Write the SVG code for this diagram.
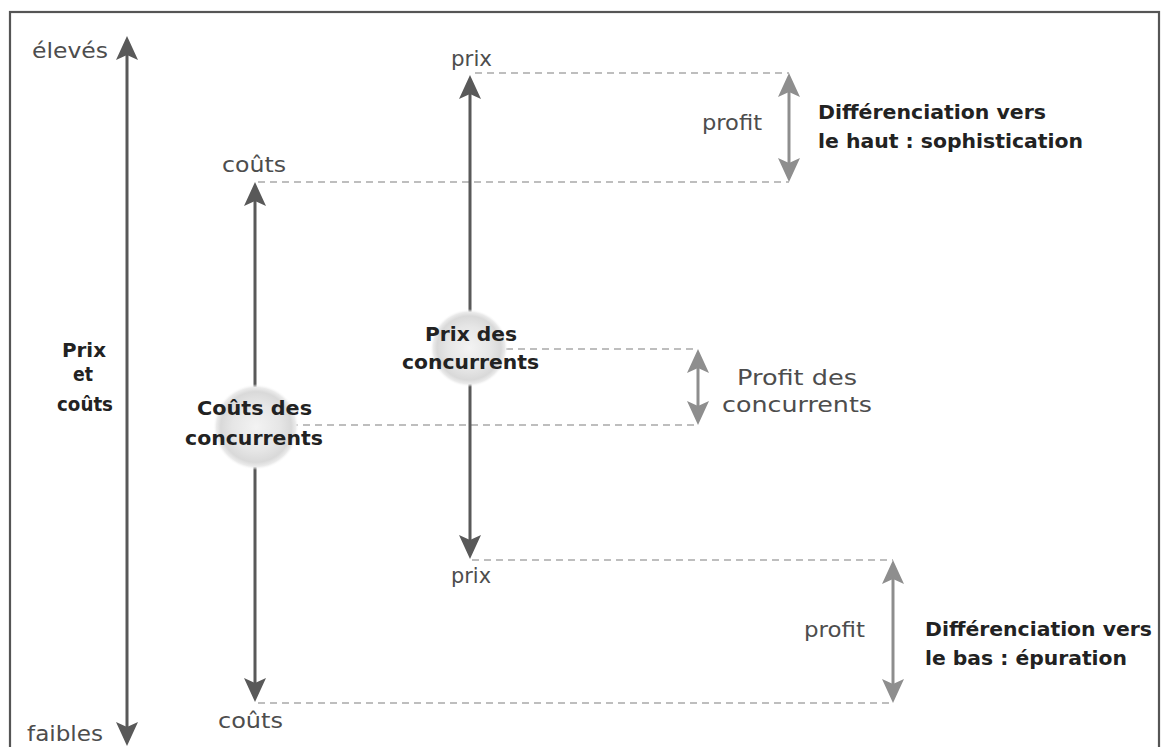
<svg xmlns="http://www.w3.org/2000/svg" width="1164" height="747" viewBox="0 0 1164 747">
<style>
.reg{font-family:"DejaVu Sans","Liberation Sans",sans-serif;font-size:22px;fill:#4d4d4d}
.bold{font-family:"DejaVu Sans","Liberation Sans",sans-serif;font-size:20px;font-weight:bold;fill:#222}
.main{stroke:#595959;stroke-width:3;fill:none}
.prof{stroke:#8e8e8e;stroke-width:3;fill:none}
.dash{stroke:#a9a9a9;stroke-width:1.6;stroke-dasharray:7 5;fill:none}
</style>
<defs>
<marker id="ah" viewBox="0 0 24 24" markerWidth="24" markerHeight="24" refX="10" refY="12" orient="auto-start-reverse" markerUnits="userSpaceOnUse">
<path d="M0,1 L24,12 L0,23 L5,12 Z" fill="#595959"/>
</marker>
<marker id="ahg" viewBox="0 0 24 24" markerWidth="24" markerHeight="24" refX="10" refY="12" orient="auto-start-reverse" markerUnits="userSpaceOnUse">
<path d="M0,1 L24,12 L0,23 L5,12 Z" fill="#8e8e8e"/>
</marker>
<radialGradient id="halo">
<stop offset="0" stop-color="#f3f3f3"/>
<stop offset="0.55" stop-color="#e6e6e6"/>
<stop offset="0.82" stop-color="#d9d9d9"/>
<stop offset="0.92" stop-color="#ebebeb"/>
<stop offset="1" stop-color="#ffffff" stop-opacity="0"/>
</radialGradient>
</defs>
<rect width="1164" height="747" fill="#ffffff"/>
<rect id="frame" x="10" y="12" width="1149" height="760" fill="none" stroke="#555" stroke-width="2.2"/>
<g id="connectors">
<line class="dash" x1="475" y1="73" x2="789" y2="73"/>
<line class="dash" x1="258" y1="182" x2="789" y2="182"/>
<line class="dash" x1="470" y1="349" x2="698" y2="349"/>
<line class="dash" x1="255" y1="425" x2="698" y2="425"/>
<line class="dash" x1="472" y1="560" x2="893" y2="560"/>
<line class="dash" x1="258" y1="703" x2="893" y2="703"/>
<line class="main" x1="127" y1="50" x2="127" y2="732" marker-start="url(#ah)" marker-end="url(#ah)"/>
<line class="main" x1="255" y1="196" x2="255" y2="688" marker-start="url(#ah)" marker-end="url(#ah)"/>
<line class="main" x1="470" y1="89" x2="470" y2="545" marker-start="url(#ah)" marker-end="url(#ah)"/>
<line class="prof" x1="789" y1="87" x2="789" y2="168" marker-start="url(#ahg)" marker-end="url(#ahg)"/>
<line class="prof" x1="698" y1="363" x2="698" y2="411" marker-start="url(#ahg)" marker-end="url(#ahg)"/>
<line class="prof" x1="893" y1="574" x2="893" y2="689" marker-start="url(#ahg)" marker-end="url(#ahg)"/>
</g>
<g id="axis-labels">
<text class="reg" x="32" y="58" textLength="76" lengthAdjust="spacingAndGlyphs">élevés</text>
<text class="reg" x="27" y="741" textLength="76" lengthAdjust="spacingAndGlyphs">faibles</text>
<text class="bold" x="62" y="357" textLength="44" lengthAdjust="spacingAndGlyphs">Prix</text>
<text class="bold" x="73" y="381" textLength="20" lengthAdjust="spacingAndGlyphs">et</text>
<text class="bold" x="57" y="411" textLength="56" lengthAdjust="spacingAndGlyphs">coûts</text>
</g>
<g id="couts-haut"><text class="reg" x="222" y="172" textLength="64" lengthAdjust="spacingAndGlyphs">coûts</text></g>
<g id="prix-haut"><text class="reg" x="451" y="66" textLength="41" lengthAdjust="spacingAndGlyphs">prix</text></g>
<g id="profit-haut"><text class="reg" x="702" y="130" textLength="60" lengthAdjust="spacingAndGlyphs">profit</text></g>
<g id="diff-haut">
<text class="bold" x="818" y="119" textLength="228" lengthAdjust="spacingAndGlyphs">Différenciation vers</text>
<text class="bold" x="818" y="148" textLength="265" lengthAdjust="spacingAndGlyphs">le haut : sophistication</text>
</g>
<g id="prix-concurrents">
<circle cx="469" cy="348" r="39" fill="url(#halo)"/>
<text class="bold" x="425" y="341" textLength="92" lengthAdjust="spacingAndGlyphs">Prix des</text>
<text class="bold" x="402" y="369" textLength="137" lengthAdjust="spacingAndGlyphs">concurrents</text>
</g>
<g id="couts-concurrents">
<circle cx="256" cy="427" r="43" fill="url(#halo)"/>
<text class="bold" x="197" y="415" textLength="115" lengthAdjust="spacingAndGlyphs">Coûts des</text>
<text class="bold" x="185" y="445" textLength="138" lengthAdjust="spacingAndGlyphs">concurrents</text>
</g>
<g id="profit-concurrents">
<text class="reg" x="737" y="385" textLength="120" lengthAdjust="spacingAndGlyphs">Profit des</text>
<text class="reg" x="722" y="412" textLength="150" lengthAdjust="spacingAndGlyphs">concurrents</text>
</g>
<g id="prix-bas"><text class="reg" x="451" y="583" textLength="40" lengthAdjust="spacingAndGlyphs">prix</text></g>
<g id="profit-bas"><text class="reg" x="804" y="637" textLength="61" lengthAdjust="spacingAndGlyphs">profit</text></g>
<g id="diff-bas">
<text class="bold" x="925" y="636" textLength="227" lengthAdjust="spacingAndGlyphs">Différenciation vers</text>
<text class="bold" x="925" y="665" textLength="202" lengthAdjust="spacingAndGlyphs">le bas : épuration</text>
</g>
<g id="couts-bas"><text class="reg" x="218" y="728" textLength="65" lengthAdjust="spacingAndGlyphs">coûts</text></g>
</svg>
